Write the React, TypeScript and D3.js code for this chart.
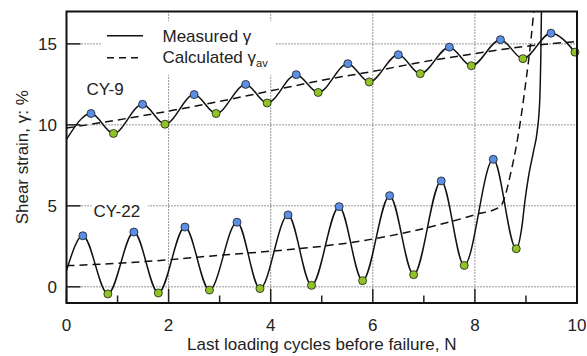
import React from 'react';
import * as d3 from 'd3';

type Pt = [number, number];

// Axis ticks
const xMajorTicks = [0, 2, 4, 6, 8, 10];
const xMinorTicks = [1, 3, 5, 7, 9];
const yMajorTicks = [0, 5, 10, 15];
const xGrid = [2, 4, 6, 8];
const yGrid = [0, 5, 10, 15];

// CY-9: measured strain extremes per cycle
const cy9Peaks: Pt[] = [
  [0.48, 10.7], [1.49, 11.27], [2.5, 11.87], [3.51, 12.5], [4.5, 13.1],
  [5.51, 13.78], [6.5, 14.33], [7.5, 14.8], [8.5, 15.26], [9.49, 15.66],
];
const cy9Troughs: Pt[] = [
  [0.92, 9.47], [1.93, 10.04], [2.93, 10.7], [3.93, 11.35], [4.93, 12.0],
  [5.93, 12.65], [6.93, 13.16], [7.93, 13.65], [8.94, 14.09], [9.96, 14.49],
];
const cy9Start: Pt[] = [[0, 9.1]];
// CY-9: calculated average strain
const cy9Average: Pt[] = [
  [0, 9.8], [1, 10.3], [2, 10.85], [3, 11.45], [4, 12.1], [5, 12.75],
  [6, 13.3], [7, 13.9], [8, 14.4], [9, 14.85], [10, 15.15],
];

// CY-22: measured strain extremes per cycle
const cy22Peaks: Pt[] = [
  [0.32, 3.15], [1.32, 3.38], [2.32, 3.69], [3.34, 3.99], [4.34, 4.44],
  [5.34, 4.95], [6.33, 5.63], [7.34, 6.54], [8.36, 7.87],
];
const cy22Troughs: Pt[] = [
  [0.81, -0.44], [1.8, -0.38], [2.8, -0.2], [3.79, -0.11], [4.8, 0.09],
  [5.8, 0.38], [6.8, 0.75], [7.79, 1.32], [8.81, 2.35],
];
const cy22Start: Pt[] = [[0, 1.0]];
// CY-22: run-away strain at failure
const cy22Failure: Pt[] = [
  [8.92, 3.7], [8.98, 5.3], [9.05, 6.8], [9.15, 8.4], [9.22, 9.6],
  [9.27, 11.5], [9.29, 14], [9.31, 18.5],
];
// CY-22: calculated average strain
const cy22Average: Pt[] = [
  [0, 1.3], [1, 1.45], [2, 1.67], [3, 1.95], [4, 2.2], [5, 2.5], [6, 2.95],
  [7, 3.6], [8, 4.45], [8.5, 4.95], [8.6, 5.7], [8.7, 7.0], [8.8, 8.5],
  [8.9, 10.4], [9.0, 12.7], [9.1, 15.3], [9.18, 18],
];

const W = 587;
const H = 356;
const left = 66.5;
const right = 577;
const top = 11.5;
const bottom = 303;

const FONT = '"Liberation Sans", Arial, sans-serif';
const INK = '#222';
const BLUE = '#5b8fe6';
const GREEN = '#8fc424';

const byX = (a: Pt, b: Pt) => a[0] - b[0];

export default function App() {
  const x = d3.scaleLinear().domain([0, 10]).range([left, right]);
  const y = d3.scaleLinear().domain([-1, 17]).range([bottom, top]);

  const curve = d3
    .line<Pt>()
    .x((d) => x(d[0]))
    .y((d) => y(d[1]))
    .curve(d3.curveMonotoneX);

  const cy9Measured = [...cy9Start, ...cy9Peaks, ...cy9Troughs].sort(byX);
  const cy22Measured = [...cy22Start, ...cy22Peaks, ...cy22Troughs, ...cy22Failure].sort(byX);

  const marker = (d: Pt, fill: string, key: string) => (
    <circle key={key} cx={x(d[0])} cy={y(d[1])} r={4} fill={fill} stroke="#1a1a1a" strokeWidth={0.8} />
  );

  return (
    <svg
      width={W}
      height={H}
      style={{ position: 'absolute', left: 0, top: 0, background: '#fff' }}
      fontFamily={FONT}
    >
      <defs>
        <clipPath id="plotArea">
          <rect x={left} y={top} width={right - left} height={bottom - top} />
        </clipPath>
      </defs>
      <rect x={0} y={0} width={W} height={H} fill="#fff" />

      {/* dotted grid */}
      {xGrid.map((v) => (
        <line key={`gx${v}`} x1={x(v)} x2={x(v)} y1={top} y2={bottom}
          stroke="#333" strokeWidth={1} strokeDasharray="1,2" />
      ))}
      {yGrid.map((v) => (
        <line key={`gy${v}`} x1={left} x2={right} y1={y(v)} y2={y(v)}
          stroke="#333" strokeWidth={1} strokeDasharray="1,2" />
      ))}

      {/* legend and label backgrounds */}
      <rect x={102} y={21} width={173} height={54} fill="#fff" />
      <rect x={91.5} y={199} width={56.5} height={22} fill="#fff" />

      {/* ticks */}
      {xMajorTicks.map((v) => (
        <line key={`tx${v}`} x1={x(v)} x2={x(v)} y1={bottom} y2={bottom - 14} stroke={INK} strokeWidth={1.5} />
      ))}
      {xMinorTicks.map((v) => (
        <line key={`mx${v}`} x1={x(v)} x2={x(v)} y1={bottom} y2={bottom - 7.5} stroke={INK} strokeWidth={1.5} />
      ))}
      {yMajorTicks.map((v) => (
        <line key={`ty${v}`} x1={left} x2={left + 14} y1={y(v)} y2={y(v)} stroke={INK} strokeWidth={1.5} />
      ))}

      {/* series */}
      <g clipPath="url(#plotArea)" fill="none" stroke="#111" strokeWidth={1.5}>
        <path d={curve(cy9Average) ?? ''} strokeDasharray="8,5" />
        <path d={curve(cy22Average) ?? ''} strokeDasharray="8,5" />
        <path d={curve(cy9Measured) ?? ''} />
        <path d={curve(cy22Measured) ?? ''} />
      </g>
      <g>
        {cy9Peaks.map((d, i) => marker(d, BLUE, `p9-${i}`))}
        {cy9Troughs.map((d, i) => marker(d, GREEN, `t9-${i}`))}
        {cy22Peaks.map((d, i) => marker(d, BLUE, `p22-${i}`))}
        {cy22Troughs.map((d, i) => marker(d, GREEN, `t22-${i}`))}
      </g>

      {/* frame */}
      <rect x={left} y={top} width={right - left} height={bottom - top} fill="none" stroke="#111" strokeWidth={2} />

      {/* tick labels */}
      <g fill={INK} fontSize={17}>
        {xMajorTicks.map((v) => (
          <text key={`lx${v}`} x={x(v)} y={331} textAnchor="middle">{v}</text>
        ))}
        {yMajorTicks.map((v) => (
          <text key={`ly${v}`} x={57} y={y(v)} dy="0.36em" textAnchor="end">{v}</text>
        ))}
      </g>

      {/* axis titles */}
      <text x={(left + right) / 2} y={350} textAnchor="middle" fontSize={17} fill={INK}>
        Last loading cycles before failure, N
      </text>
      <text transform={`translate(28, ${(top + bottom) / 2}) rotate(-90)`} textAnchor="middle" fontSize={17} fill={INK}>
        Shear strain, γ: %
      </text>

      {/* specimen labels */}
      <text x={86.5} y={95} fontSize={17} fill={INK}>CY-9</text>
      <text x={93.5} y={216.5} fontSize={17} fill={INK}>CY-22</text>

      {/* legend */}
      <line x1={107} x2={143} y1={35.7} y2={35.7} stroke="#111" strokeWidth={1.5} />
      <line x1={107} x2={143} y1={57.7} y2={57.7} stroke="#111" strokeWidth={1.5} strokeDasharray="7,5" />
      <text x={162.5} y={41.5} fontSize={17} fill={INK}>Measured γ</text>
      <text x={162.5} y={63} fontSize={17} fill={INK}>
        Calculated γ<tspan fontSize={11} dy={4}>av</tspan>
      </text>
    </svg>
  );
}
